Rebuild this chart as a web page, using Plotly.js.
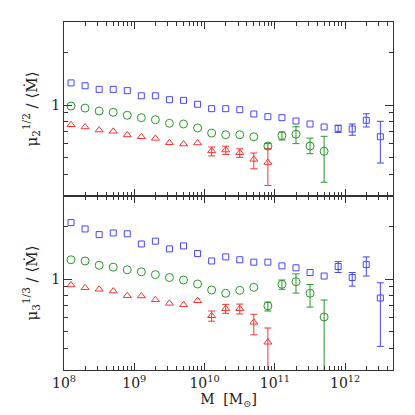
<!DOCTYPE html>
<html>
<head>
<meta charset="utf-8">
<script src="https://cdn.plot.ly/plotly-3.0.1.min.js"></script>
<style>body{margin:0;background:#fff}#plot{width:415px;height:415px}</style>
</head>
<body>
<div id="plot"></div>
<script>
// log10 of halo mass for each bin
var logM = [8.1,8.3,8.5,8.7,8.9,9.1,9.3,9.5,9.7,9.9,10.1,10.3,10.5,10.7,10.9,11.1,11.3,11.5,11.7,11.9,12.1,12.3,12.5];
var N = NaN;

// top panel: mu2^(1/2)/<Mdot>
var blue2 = [1.34,1.29,1.23,1.23,1.21,1.13,1.13,1.073,1.064,1.01,0.953,0.953,0.94,0.888,0.857,0.846,0.809,0.778,0.748,0.734,0.728,0.817,0.657];
var blue2Hi = [N,N,N,N,N,N,N,N,N,N,N,N,N,N,N,N,N,N,N,0.765,0.778,0.891,0.806];
var blue2Lo = [N,N,N,N,N,N,N,N,N,N,N,N,N,N,N,N,N,N,N,0.696,0.67,0.748,0.464];
var green2 = [0.987,0.96,0.924,0.908,0.873,0.846,0.823,0.785,0.778,0.738,0.69,0.675,0.675,0.657,0.581,0.667,0.679,0.581,0.542];
var green2Hi = [N,N,N,N,N,N,N,N,N,N,N,N,N,N,0.60,0.70,0.75,0.645,0.661];
var green2Lo = [N,N,N,N,N,N,N,N,N,N,N,N,N,N,0.56,0.63,0.60,0.525,0.36];
var red2 = [0.77,0.748,0.718,0.706,0.673,0.657,0.643,0.607,0.597,0.605,0.545,0.551,0.532,0.487,0.467];
var red2Hi = [N,N,N,N,N,N,N,N,N,N,0.574,0.58,0.56,0.53,0.56];
var red2Lo = [N,N,N,N,N,N,N,N,N,N,0.51,0.52,0.50,0.43,0.345];

// bottom panel: mu3^(1/3)/<Mdot>
var blue3 = [2.11,1.94,1.80,1.84,1.82,1.59,1.65,1.49,1.55,1.40,1.27,1.34,1.29,1.25,1.25,1.19,1.16,1.09,1.04,1.18,1.02,1.21,0.778];
var blue3Hi = [N,N,N,N,N,N,N,N,N,N,N,N,N,N,N,N,N,N,N,1.26,1.09,1.34,0.952];
var blue3Lo = [N,N,N,N,N,N,N,N,N,N,N,N,N,N,N,N,N,N,N,1.09,0.91,1.04,0.41];
var green3 = [1.29,1.27,1.20,1.17,1.13,1.10,1.06,1.02,0.987,0.936,0.865,0.828,0.861,0.896,0.70,0.932,0.965,0.828,0.605];
var green3Hi = [N,N,N,N,N,N,N,N,N,N,N,N,N,N,0.737,0.987,1.07,0.93,0.757];
var green3Lo = [N,N,N,N,N,N,N,N,N,N,N,N,N,N,0.655,0.873,0.83,0.69,0.25];
var red3 = [0.924,0.891,0.873,0.853,0.802,0.799,0.76,0.725,0.711,0.75,0.615,0.675,0.675,0.564,0.433];
var red3Hi = [N,N,N,N,N,N,N,N,N,N,0.655,0.715,0.718,0.627,0.523];
var red3Lo = [N,N,N,N,N,N,N,N,N,N,0.572,0.635,0.63,0.478,0.25];

var xTickVals = [1e8,1e9,1e10,1e11,1e12];
var xTickText = ['10<sup>8</sup>','10<sup>9</sup>','10<sup>10</sup>','10<sup>11</sup>','10<sup>12</sup>'];

var BLUE = 'rgb(70,70,255)', GREEN = 'rgb(40,150,40)', RED = 'rgb(255,50,50)';

function trace(vals, hi, lo, color, symbol, size, yax) {
  var xs = vals.map(function (v, i) { return Math.pow(10, logM[i]); });
  return {
    x: xs, y: vals, yaxis: yax, xaxis: yax === 'y' ? 'x' : 'x2',
    mode: 'markers', type: 'scatter',
    marker: {symbol: symbol, size: size, color: color, line: {color: color, width: 1}},
    error_y: {
      type: 'data', symmetric: false,
      array: vals.map(function (v, i) { return hi[i] - v; }),
      arrayminus: vals.map(function (v, i) { return v - lo[i]; }),
      color: color, thickness: 1, width: 3.5
    },
    showlegend: false, hoverinfo: 'skip'
  };
}

var data = [
  trace(blue2, blue2Hi, blue2Lo, BLUE, 'square-open', 6, 'y'),
  trace(green2, green2Hi, green2Lo, GREEN, 'circle-open', 8, 'y'),
  trace(red2, red2Hi, red2Lo, RED, 'triangle-up-open', 7, 'y'),
  trace(blue3, blue3Hi, blue3Lo, BLUE, 'square-open', 6, 'y2'),
  trace(green3, green3Hi, green3Lo, GREEN, 'circle-open', 8, 'y2'),
  trace(red3, red3Hi, red3Lo, RED, 'triangle-up-open', 7, 'y2')
];

var xMinor = [];
for (var d = 8; d <= 12; d++) for (var m = 2; m <= 9; m++) xMinor.push(m * Math.pow(10, d));
var yMinor = [0.3,0.4,0.5,0.6,0.7,0.8,0.9,2,3];

var font = {family: 'DejaVu Serif, Liberation Serif, serif', size: 14, color: '#222'};
var titleFont = {family: 'DejaVu Serif, Liberation Serif, serif', size: 15, color: '#222'};

function xaxis(anchor, labels) {
  return {
    type: 'log', range: [8, 12.68], anchor: anchor,
    showgrid: false, zeroline: false,
    showline: true, linecolor: '#333', linewidth: 1, mirror: 'ticks',
    ticks: 'inside', ticklen: 7, tickcolor: '#333',
    tickmode: 'array', tickvals: xTickVals, ticktext: xTickText,
    showticklabels: labels, tickfont: font,
    minor: {ticks: 'inside', ticklen: 4, tickcolor: '#333', tickmode: 'array', tickvals: xMinor}
  };
}
function yaxis(domain, anchor, title) {
  return {
    type: 'log', range: [Math.log10(0.3), Math.log10(3)], domain: domain, anchor: anchor,
    showgrid: false, zeroline: false,
    showline: true, linecolor: '#333', linewidth: 1, mirror: 'ticks',
    ticks: 'inside', ticklen: 8, tickcolor: '#333',
    tickmode: 'array', tickvals: [1], ticktext: ['1'], tickfont: font,
    minor: {ticks: 'inside', ticklen: 4, tickcolor: '#333', tickmode: 'array', tickvals: yMinor},
    title: {text: title, font: titleFont, standoff: 10}
  };
}

var x2 = xaxis('y2', true);
x2.title = {text: 'M  [M<sub>⊙</sub>]', font: font, standoff: 2};
var x1 = xaxis('y', false);
x1.matches = 'x2';

var layout = {
  width: 415, height: 415,
  margin: {l: 64, r: 22, t: 22, b: 45},
  paper_bgcolor: '#fff', plot_bgcolor: '#fff',
  font: font,
  xaxis: x1,
  xaxis2: x2,
  yaxis: yaxis([0.5, 1], 'x', 'μ<sub>2</sub><sup>1/2</sup> / ⟨Ṁ⟩'),
  yaxis2: yaxis([0, 0.5], 'x2', 'μ<sub>3</sub><sup>1/3</sup> / ⟨Ṁ⟩')
};

Plotly.newPlot('plot', data, layout, {staticPlot: true});
</script>
</body>
</html>
